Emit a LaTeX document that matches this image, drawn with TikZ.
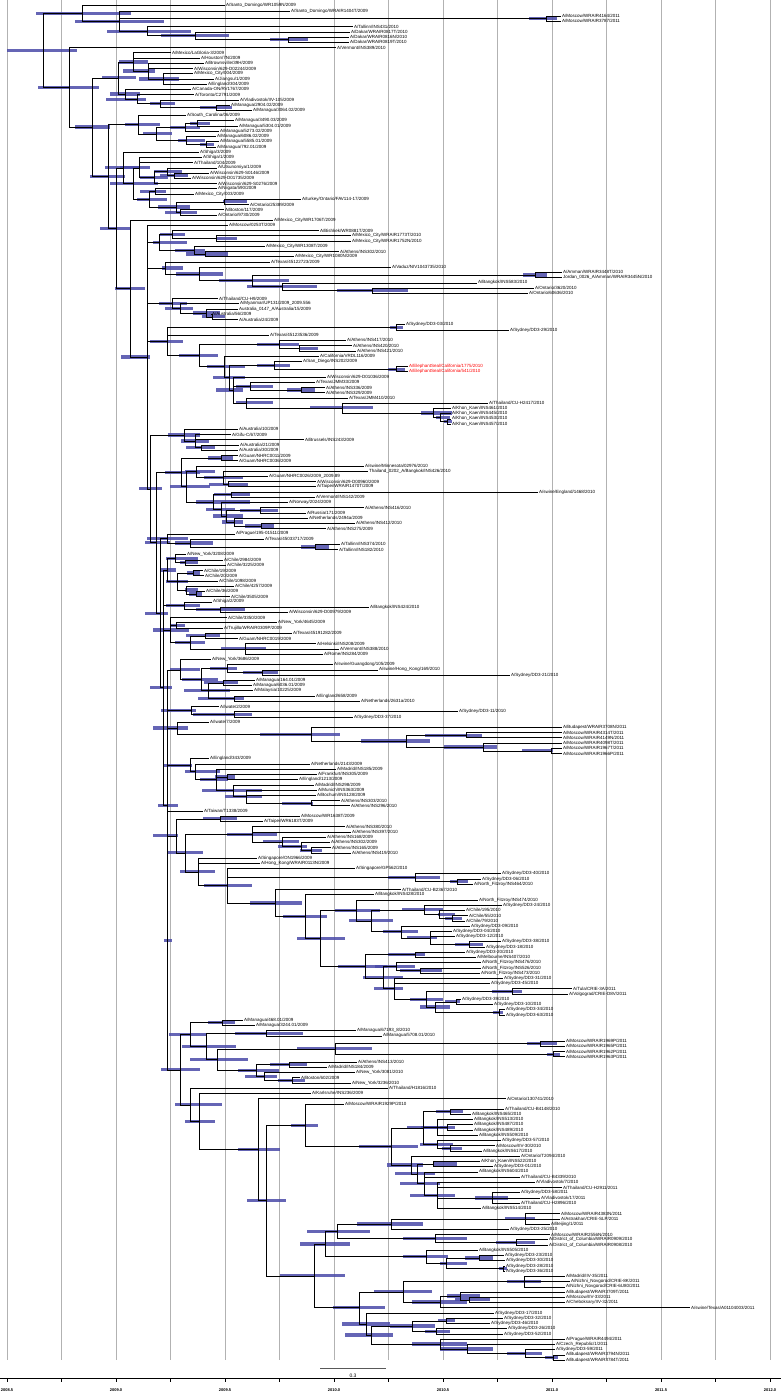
\documentclass[tikz,border=0pt]{standalone}
\usepackage{fontspec}
\setmainfont{Liberation Sans}
\definecolor{hpdblue}{RGB}{74,74,168}
\pgfdeclarelayer{back}
\pgfdeclarelayer{bars}
\pgfsetlayers{back,bars,main}

% y of tip row #1
\newcommand\rowy[1]{5.7+5.229*(#1-1)}
% \leaf[colour]{row}{tip x}{label}
\newcommand\leaf[4][black]{\node[taxon,text=#1] (l#2) at (#3,{\rowy{#2}}) {#4};}
% \clade{name}{x}{row}{bar from}{bar to}{children}
\newcommand\clade[6]{%
  \begin{pgfonlayer}{bars}\fill[hpd] (#4,{\rowy{#3}-1.6}) rectangle (#5,{\rowy{#3}+1.6});\end{pgfonlayer}%
  \coordinate (#1) at (#2,{\rowy{#3}});%
  \foreach \kid in {#6} \draw[branch] (#1) |- (\kid);}

\begin{document}
\begin{tikzpicture}[
  x=1pt, y=-1pt,
  taxon/.style={anchor=west, inner sep=0.8pt, font=\fontsize{4.5}{5}\selectfont},
  branch/.style={line width=0.55pt, black},
  hpd/.style={fill=hpdblue, fill opacity=0.85},
  gridline/.style={gray!60, line width=0.5pt},
  timeaxis/.style={line width=0.5pt},
  yearlab/.style={font=\fontsize{4}{4}\selectfont\bfseries, inner sep=0pt},
  scalebar/.style={gray!70!black, line width=1pt}
]
\useasboundingbox (0,0) rectangle (781,1396);

% time grid
\begin{pgfonlayer}{back}
\foreach \i in {0,...,14} \draw[gridline] ({7+54.5*\i},0) -- ({7+54.5*\i},1360);
\end{pgfonlayer}

% tips
\leaf{1}{225}{A/Santo\_Domingo/WR1059N/2009}
\leaf{2}{290}{A/Santo\_Domingo/WRAIR1404T/2009}
\leaf{3}{561}{A/Moscow/WRAIR4164/2011}
\leaf{4}{561}{A/Moscow/WRAIR3787/2011}
\leaf{5}{353}{A/Tallinn/INS431/2010}
\leaf{6}{350}{A/Dakar/WRAIR0817T/2010}
\leaf{7}{349}{A/Dakar/WRAIR0816N/2010}
\leaf{8}{349}{A/Dakar/WRAIR0819T/2010}
\leaf{9}{336}{A/Vermont/INS389/2010}
\leaf{10}{171}{A/Mexico/LaGloria-3/2009}
\leaf{11}{200}{A/Houston/7N/2009}
\leaf{12}{204}{A/Brownsville/39H/2009}
\leaf{13}{193}{A/Wisconsin/629-D02244/2009}
\leaf{14}{193}{A/Mexico\_City/004/2009}
\leaf{15}{214}{A/Jiangsu/1/2009}
\leaf{16}{207}{A/England/304/2009}
\leaf{17}{191}{A/Canada-ON/RV1767/2009}
\leaf{18}{194}{A/Toronto/C2791/2009}
\leaf{19}{239}{A/Vladivostok/IIV-105/2009}
\leaf{20}{230}{A/Managua/2904.02/2009}
\leaf{21}{252}{A/Managua/3064.02/2009}
\leaf{22}{186}{A/South\_Carolina/06/2009}
\leaf{23}{234}{A/Managua/3490.03/2009}
\leaf{24}{238}{A/Managua/5304.01/2009}
\leaf{25}{219}{A/Managua/5273.02/2009}
\leaf{26}{216}{A/Managua/6086.02/2009}
\leaf{27}{219}{A/Managua/5585.01/2009}
\leaf{28}{216}{A/Managua/792.01/2009}
\leaf{29}{199}{A/Shiga/3/2009}
\leaf{30}{202}{A/Shiga/1/2009}
\leaf{31}{193}{A/Thailand/104/2009}
\leaf{32}{217}{A/Utsunomiya/1/2009}
\leaf{33}{209}{A/Wisconsin/629-S0146/2009}
\leaf{34}{191}{A/Wisconsin/629-D01735/2009}
\leaf{35}{217}{A/Wisconsin/629-S0276/2009}
\leaf{36}{217}{A/Niigata/590/2009}
\leaf{37}{194}{A/Mexico\_City/003/2009}
\leaf{38}{301}{A/turkey/Ontario/FAV114-17/2009}
\leaf{39}{249}{A/Ontario/25389/2009}
\leaf{40}{224}{A/Boston/117/2009}
\leaf{41}{217}{A/Ontario/9730/2009}
\leaf{42}{273}{A/Mexico\_City/WR1706T/2009}
\leaf{43}{228}{A/Moscow/0253T/2009}
\leaf{44}{319}{A/Bishkek/WR0881T/2009}
\leaf{45}{351}{A/Mexico\_City/WRAIR1773T/2010}
\leaf{46}{351}{A/Mexico\_City/WRAIR1752N/2010}
\leaf{47}{265}{A/Mexico\_City/WR1308T/2009}
\leaf{48}{339}{A/Athens/INS302/2010}
\leaf{49}{294}{A/Mexico\_City/WR1080N/2009}
\leaf{50}{270}{A/Texas/45122723/2009}
\leaf{51}{391}{A/Vaduz/NIV1043735/2010}
\leaf{52}{562}{A/Amman/WRAIR3448T/2010}
\leaf{53}{562}{Jordan\_0026\_A/Amman/WRAIR3445N/2010}
\leaf{54}{477}{A/Bangkok/INS583/2010}
\leaf{55}{534}{A/Ontario/3620/2010}
\leaf{56}{528}{A/Ontario/60636/2010}
\leaf{57}{218}{A/Thailand/CU-H9/2009}
\leaf{58}{239}{A/Myanmar/UP131/2009\_2009.556}
\leaf{59}{238}{Australia\_0147\_A/Australia/15/2009}
\leaf{60}{211}{A/Australia/56/2009}
\leaf{61}{238}{A/Australia/24/2009}
\leaf{62}{405}{A/Sydney/DD3-03/2010}
\leaf{63}{509}{A/Sydney/DD3-29/2010}
\leaf{64}{269}{A/Texas/45123536/2009}
\leaf{65}{346}{A/Athens/INS417/2010}
\leaf{66}{352}{A/Athens/INS420/2010}
\leaf{67}{356}{A/Athens/INS421/2010}
\leaf{68}{319}{A/California/VRDL116/2009}
\leaf{69}{302}{A/San\_Diego/INS202/2009}
\leaf[red]{70}{408}{A/ElephantSeal/California/1775/2010}
\leaf[red]{71}{408}{A/ElephantSeal/California/541/2010}
\leaf{72}{326}{A/Wisconsin/629-D01036/2009}
\leaf{73}{315}{A/Texas/JMM33/2009}
\leaf{74}{325}{A/Athens/INS336/2009}
\leaf{75}{325}{A/Athens/INS329/2009}
\leaf{76}{348}{A/Texas/JMM410/2010}
\leaf{77}{488}{A/Thailand/CU-H2417/2010}
\leaf{78}{451}{A/Khon\_Kaen/INS461/2010}
\leaf{79}{451}{A/Khon\_Kaen/INS445/2010}
\leaf{80}{451}{A/Khon\_Kaen/INS453/2010}
\leaf{81}{451}{A/Khon\_Kaen/INS457/2010}
\leaf{82}{238}{A/Australia/10/2009}
\leaf{83}{231}{A/Gifu-C/67/2009}
\leaf{84}{304}{A/Brussels/INS243/2009}
\leaf{85}{239}{A/Australia/21/2009}
\leaf{86}{238}{A/Australia/30/2009}
\leaf{87}{238}{A/Guam/NHRC0011/2009}
\leaf{88}{238}{A/Guam/NHRC0036/2009}
\leaf{89}{364}{A/swine/Minnesota/02976/2010}
\leaf{90}{368}{Thailand\_0202\_A/Bangkok/INS426/2010}
\leaf{91}{268}{A/Guam/NHRC0026/2009\_2009.89}
\leaf{92}{316}{A/Wisconsin/629-D00960/2009}
\leaf{93}{316}{A/Taipei/WRAIR1470T/2009}
\leaf{94}{538}{A/swine/England/1468/2010}
\leaf{95}{315}{A/Vermont/INS142/2009}
\leaf{96}{288}{A/Norway/2024/2009}
\leaf{97}{364}{A/Athens/INS416/2010}
\leaf{98}{306}{A/Russia/171/2009}
\leaf{99}{308}{A/Netherlands/2494a/2009}
\leaf{100}{355}{A/Athens/INS412/2010}
\leaf{101}{326}{A/Athens/INS275/2009}
\leaf{102}{235}{A/Prague/195-01511/2009}
\leaf{103}{264}{A/Texas/45033717/2009}
\leaf{104}{340}{A/Tallinn/INS374/2010}
\leaf{105}{338}{A/Tallinn/INS182/2010}
\leaf{106}{186}{A/New\_York/3208/2009}
\leaf{107}{223}{A/Chile/2984/2009}
\leaf{108}{226}{A/Chile/3225/2009}
\leaf{109}{203}{A/Chile/19/2009}
\leaf{110}{204}{A/Chile/20/2009}
\leaf{111}{218}{A/Chile/1098/2009}
\leaf{112}{234}{A/Chile/4257/2009}
\leaf{113}{205}{A/Chile/36/2009}
\leaf{114}{230}{A/Chile/3505/2009}
\leaf{115}{212}{A/Shiga/2/2009}
\leaf{116}{369}{A/Bangkok/INS424/2010}
\leaf{117}{288}{A/Wisconsin/629-D00979/2009}
\leaf{118}{227}{A/Chile/3350/2009}
\leaf{119}{277}{A/New\_York/4645/2009}
\leaf{120}{223}{A/Trujillo/WRAIR0309P/2009}
\leaf{121}{292}{A/Texas/45191282/2009}
\leaf{122}{238}{A/Guam/NHRC0019/2009}
\leaf{123}{316}{A/Helsinki/INS208/2009}
\leaf{124}{339}{A/Vermont/INS388/2010}
\leaf{125}{323}{A/Rome/INS284/2009}
\leaf{126}{211}{A/New\_York/3686/2009}
\leaf{127}{333}{A/swine/Guangdong/105/2009}
\leaf{128}{378}{A/swine/Hong\_Kong/169/2010}
\leaf{129}{510}{A/Sydney/DD3-21/2010}
\leaf{130}{255}{A/Managua/164.01/2009}
\leaf{131}{252}{A/Managua/6036.01/2009}
\leaf{132}{253}{A/Malaysia/10225/2009}
\leaf{133}{315}{A/England/658/2009}
\leaf{134}{360}{A/Netherlands/2631a/2010}
\leaf{135}{219}{A/Iwate/2/2009}
\leaf{136}{458}{A/Sydney/DD3-11/2010}
\leaf{137}{353}{A/Sydney/DD3-37/2010}
\leaf{138}{209}{A/Iwate/7/2009}
\leaf{139}{562}{A/Budapest/WRAIR3708N/2011}
\leaf{140}{562}{A/Moscow/WRAIR4314T/2011}
\leaf{141}{562}{A/Moscow/WRAIR4149N/2011}
\leaf{142}{562}{A/Moscow/WRAIR4098T/2011}
\leaf{143}{562}{A/Moscow/WRAIR1967T/2011}
\leaf{144}{562}{A/Moscow/WRAIR1966P/2011}
\leaf{145}{209}{A/England/343/2009}
\leaf{146}{310}{A/Netherlands/2143/2009}
\leaf{147}{336}{A/Madrid/INS185/2009}
\leaf{148}{317}{A/Frankfurt/INS305/2009}
\leaf{149}{298}{A/England/1213/2009}
\leaf{150}{314}{A/Madrid/INS298/2009}
\leaf{151}{317}{A/Munich/INS363/2009}
\leaf{152}{316}{A/Bochum/INS128/2009}
\leaf{153}{340}{A/Athens/INS303/2010}
\leaf{154}{350}{A/Athens/INS296/2010}
\leaf{155}{203}{A/Taiwan/T1338/2009}
\leaf{156}{300}{A/Moscow/WR1638T/2009}
\leaf{157}{263}{A/Taipei/WR6183T/2009}
\leaf{158}{345}{A/Athens/INS380/2010}
\leaf{159}{351}{A/Athens/INS397/2010}
\leaf{160}{326}{A/Athens/INS168/2009}
\leaf{161}{330}{A/Athens/INS302/2009}
\leaf{162}{331}{A/Athens/INS165/2009}
\leaf{163}{351}{A/Athens/INS419/2010}
\leaf{164}{257}{A/Singapore/ON1966/2009}
\leaf{165}{260}{A/Hong\_Kong/WRAIR0113N/2009}
\leaf{166}{355}{A/Singapore/GP562/2010}
\leaf{167}{501}{A/Sydney/DD3-40/2010}
\leaf{168}{481}{A/Sydney/DD3-06/2010}
\leaf{169}{473}{A/North\_Fitzroy/INS464/2010}
\leaf{170}{401}{A/Thailand/CU-B2367/2010}
\leaf{171}{374}{A/Bangkok/INS428/2010}
\leaf{172}{478}{A/North\_Fitzroy/INS474/2010}
\leaf{173}{502}{A/Sydney/DD3-24/2010}
\leaf{174}{465}{A/Chile/195/2010}
\leaf{175}{468}{A/Chile/55/2010}
\leaf{176}{465}{A/Chile/79/2010}
\leaf{177}{470}{A/Sydney/DD3-09/2010}
\leaf{178}{452}{A/Sydney/DD3-04/2010}
\leaf{179}{455}{A/Sydney/DD3-12/2010}
\leaf{180}{501}{A/Sydney/DD3-38/2010}
\leaf{181}{485}{A/Sydney/DD3-18/2010}
\leaf{182}{465}{A/Sydney/DD3-20/2010}
\leaf{183}{476}{A/Melbourne/INS407/2010}
\leaf{184}{481}{A/North\_Fitzroy/INS476/2010}
\leaf{185}{481}{A/North\_Fitzroy/INS526/2010}
\leaf{186}{480}{A/North\_Fitzroy/INS473/2010}
\leaf{187}{503}{A/Sydney/DD3-31/2010}
\leaf{188}{490}{A/Sydney/DD3-45/2010}
\leaf{189}{572}{A/Tula/CRIE-3A/2011}
\leaf{190}{568}{A/Volgograd/CRIE-D8V/2011}
\leaf{191}{461}{A/Sydney/DD3-39/2010}
\leaf{192}{493}{A/Sydney/DD3-10/2010}
\leaf{193}{505}{A/Sydney/DD3-34/2010}
\leaf{194}{505}{A/Sydney/DD3-63/2010}
\leaf{195}{243}{A/Managua/468.01/2009}
\leaf{196}{255}{A/Managua/3244.01/2009}
\leaf{197}{356}{A/Managua/67193\_8/2010}
\leaf{198}{382}{A/Managua/5708.01/2010}
\leaf{199}{565}{A/Moscow/WRAIR1969P/2011}
\leaf{200}{565}{A/Moscow/WRAIR1965P/2011}
\leaf{201}{565}{A/Moscow/WRAIR1962P/2011}
\leaf{202}{565}{A/Moscow/WRAIR1963P/2011}
\leaf{203}{357}{A/Athens/INS413/2010}
\leaf{204}{327}{A/Madrid/INS184/2009}
\leaf{205}{355}{A/New\_York/3081/2010}
\leaf{206}{300}{A/Boston/602/2009}
\leaf{207}{351}{A/New\_York/3236/2010}
\leaf{208}{388}{A/Thailand/H1816/2010}
\leaf{209}{311}{A/Karlsruhe/INS236/2009}
\leaf{210}{506}{A/Ontario/130741/2010}
\leaf{211}{344}{A/Moscow/WRAIR1929P/2010}
\leaf{212}{504}{A/Thailand/CU-B4148/2010}
\leaf{213}{471}{A/Bangkok/INS465/2010}
\leaf{214}{473}{A/Bangkok/INS513/2010}
\leaf{215}{473}{A/Bangkok/INS487/2010}
\leaf{216}{473}{A/Bangkok/INS489/2010}
\leaf{217}{478}{A/Bangkok/INS509/2010}
\leaf{218}{501}{A/Sydney/DD3-57/2010}
\leaf{219}{495}{A/Moscow/IIV-30/2010}
\leaf{220}{482}{A/Bangkok/INS617/2010}
\leaf{221}{520}{A/Ontario/T2094/2010}
\leaf{222}{480}{A/Khon\_Kaen/INS522/2010}
\leaf{223}{493}{A/Sydney/DD3-01/2010}
\leaf{224}{478}{A/Bangkok/INS604/2010}
\leaf{225}{520}{A/Thailand/CU-B4339/2010}
\leaf{226}{535}{A/Vladivostok/7/2010}
\leaf{227}{562}{A/Thailand/CU-H2911/2011}
\leaf{228}{520}{A/Sydney/DD3-58/2011}
\leaf{229}{540}{A/Vladivostok/17/2011}
\leaf{230}{520}{A/Thailand/CU-H2896/2010}
\leaf{231}{481}{A/Bangkok/INS514/2010}
\leaf{232}{560}{A/Moscow/WRAIR4383N/2011}
\leaf{233}{560}{A/Astrakhan/CRIE-SLP/2011}
\leaf{234}{550}{A/Beijing/1/2011}
\leaf{235}{509}{A/Sydney/DD3-25/2010}
\leaf{236}{550}{A/Moscow/WRAIR2556N/2010}
\leaf{237}{548}{A/District\_of\_Columbia/WRAIR0909/2010}
\leaf{238}{548}{A/District\_of\_Columbia/WRAIR0908/2010}
\leaf{239}{478}{A/Bangkok/INS505/2010}
\leaf{240}{504}{A/Sydney/DD3-23/2010}
\leaf{241}{505}{A/Sydney/DD3-30/2010}
\leaf{242}{505}{A/Sydney/DD3-28/2010}
\leaf{243}{505}{A/Sydney/DD3-36/2010}
\leaf{244}{565}{A/Madrid/IIV-35/2011}
\leaf{245}{570}{A/Nizhni\_Novgorod/CRIE-8K/2011}
\leaf{246}{565}{A/Nizhni\_Novgorod/CRIE-6U80/2011}
\leaf{247}{565}{A/Budapest/WRAIR3709T/2011}
\leaf{248}{565}{A/Moscow/IIV-33/2011}
\leaf{249}{565}{A/Cheboksary/IIV-32/2011}
\leaf{250}{690}{A/swine/Texas/A01104003/2011}
\leaf{251}{494}{A/Sydney/DD3-17/2010}
\leaf{252}{503}{A/Sydney/DD3-32/2010}
\leaf{253}{490}{A/Sydney/DD3-46/2010}
\leaf{254}{507}{A/Sydney/DD3-26/2010}
\leaf{255}{503}{A/Sydney/DD3-52/2010}
\leaf{256}{565}{A/Prague/WRAIR4494/2011}
\leaf{257}{555}{A/Czech\_Republic/1/2011}
\leaf{258}{555}{A/Sydney/DD3-59/2011}
\leaf{259}{565}{A/Budapest/WRAIR3794N/2011}
\leaf{260}{565}{A/Budapest/WRAIR3784T/2011}

% top clade
\clade{n5}{288.6}{7.5}{270}{308}{l7,l8}
\clade{n4}{195.7}{6.75}{161}{229}{l6,n5}
\clade{n3}{147.5}{5.9}{107}{191}{l5,n4}
\clade{mo1}{546}{3.5}{529}{557}{l3,l4}
\clade{n2}{119.6}{4}{75}{164}{l2,mo1,n3}
\clade{n1}{82}{2.5}{36}{131}{l1,n2}

% Mexico
\clade{mx3}{163.6}{15}{139}{179}{l14,l15,l16}
\clade{mx2}{148}{13.5}{123}{155}{l12,l13,mx3}
\clade{mx1}{133}{11.75}{119}{148}{l10,l11,mx2}
\clade{mx7}{216}{20.5}{200}{232}{l20,l21}
\clade{mx6}{160.7}{19.75}{150}{175}{l19,mx7}
\clade{mx5}{137.5}{18.9}{106}{146}{l18,mx6}
\clade{mx4}{125.7}{17.9}{110}{140}{l17,mx5}
\clade{mx0}{117.9}{14.8}{102}{136}{mx1,mx4}

% Managua
\clade{sc2a}{197}{23.5}{190}{210}{l23,l24}
\clade{sc2}{185}{24.25}{170}{200}{sc2a,l25}
\clade{sc3a}{206.7}{27.5}{200}{214}{l27,l28}
\clade{sc3}{186.7}{26.75}{178}{205}{l26,sc3a}
\clade{sc1}{156.7}{25.5}{143}{172}{sc2,sc3}
\clade{sc0}{138}{23.75}{125}{160}{l22,sc1}

% Shiga / Wisconsin
\clade{sh4a}{174}{33.5}{160}{188}{l33,l34}
\clade{sh4}{167}{32.75}{154}{182}{l32,sh4a}
\clade{sh3}{154}{33.9}{140}{168}{sh4,l35}
\clade{sh2}{139.3}{32}{120}{150}{l30,l31,sh3}
\clade{sh6}{155.7}{36.5}{140}{166}{l36,l37}
\clade{sh8}{224.3}{38.5}{223}{247}{l38,l39}
\clade{sh9}{180.7}{40.5}{165}{197}{l40,l41}
\clade{sh7}{176}{39.5}{158}{190}{sh8,sh9}
\clade{sh5}{149.3}{38}{137}{167}{sh6,sh7}
\clade{sh1}{133.3}{35}{110}{158}{sh2,sh5}
\clade{sh0}{123.3}{32}{105}{140}{l29,sh1}

% Mexico City / Amman
\clade{mc3a}{216.7}{45.5}{216}{237}{l45,l46}
\clade{mc3}{172.7}{44.75}{160}{185}{l44,mc3a}
\clade{mc5}{205}{48.5}{186}{228}{l48,l49}
\clade{mc4}{194}{47.75}{175}{205}{l47,mc5}
\clade{mc1}{159.3}{46.25}{153}{187}{mc3,mc4}
\clade{am0}{535}{52.5}{523}{547}{l52,l53}
\clade{on1}{372.3}{55.5}{337}{408}{l55,l56}
\clade{mc8}{282.3}{54.75}{247}{317}{l54,on1}
\clade{mc7}{252.3}{53.6}{219}{289}{am0,mc8}
\clade{mc6}{199.3}{52.3}{176}{223}{l51,mc7}
\clade{mc2}{165}{51.15}{162}{183}{l50,mc6}

% Australia
\clade{au1b}{212.7}{60.5}{202}{225}{l60,l61}
\clade{au1a}{206.7}{59.75}{193}{220}{l59,au1b}
\clade{au1}{180.7}{58.9}{165}{193}{l58,au1a}
\clade{au0}{172.7}{57.9}{159}{187}{l57,au1}

% Texas / Athens / Khon Kaen
\clade{sy0}{396.7}{62.5}{390}{403}{l62,l63}
\clade{ath2}{299}{66.5}{299}{318}{l66,l67}
\clade{ath}{279}{65.75}{257}{299}{l65,ath2}
\clade{es0}{396.7}{70.5}{388}{405}{l70,l71}
\clade{tx4}{274.3}{69.75}{257}{290}{l69,es0}
\clade{tx6a}{301}{74.5}{287}{315}{l74,l75}
\clade{tx6}{250}{73.75}{236}{273}{l73,tx6a}
\clade{kn3}{447}{80.5}{444}{452}{l80,l81}
\clade{kn2}{440}{79.75}{436}{450}{l79,kn3}
\clade{kn1}{433.3}{78.9}{421}{452}{l78,kn2}
\clade{kn0}{342.3}{77.9}{310}{373}{l77,kn1}
\clade{tx7}{246}{76.95}{236}{273}{l76,kn0}
\clade{tx5}{233.3}{74.5}{216}{243}{l72,tx6,tx7}
\clade{tx3}{229.3}{72.1}{213}{245}{tx4,tx5}
\clade{tx2}{224.3}{70}{207}{245}{l68,tx3}
\clade{tx1}{199.3}{67.9}{179}{218}{ath,tx2}
\clade{tx0}{167.3}{65.2}{150}{183}{sy0,l64,tx1}

% Australia / Guam / swine
\clade{au5}{201}{85.5}{186}{215}{l85,l86}
\clade{au4}{195}{84.25}{181}{209}{l83,l84,au5}
\clade{au3}{184.3}{83.1}{168}{200}{l82,au4}
\clade{au6}{221}{87.5}{208}{233}{l87,l88}
\clade{gm6}{228.3}{92.5}{209}{248}{l92,l93}
\clade{gm5}{223.3}{91.25}{204}{243}{l90,l91,gm6}
\clade{gm3}{196.7}{90.1}{185}{215}{l89,gm5}
\clade{gm7}{231.7}{94.5}{214}{250}{l94,l95}
\clade{gm10}{260}{97.5}{240}{278}{l97,l98}
\clade{gm12}{261.7}{100.5}{245}{274}{l100,l101}
\clade{gm11}{234.3}{99.75}{222}{243}{l99,gm12}
\clade{gm9}{226.7}{98.6}{213}{243}{gm10,gm11}
\clade{gm8}{221.7}{97.3}{206}{235}{l96,gm9}
\clade{gm4}{213.3}{95.9}{196}{250}{gm7,gm8}
\clade{gm2}{186.7}{93}{170}{210}{gm3,gm4}
\clade{gm1}{181.7}{90.25}{165}{200}{au6,gm2}

% Prague / Tallinn
\clade{pr2}{315.7}{104.5}{301}{329}{l104,l105}
\clade{pr1}{190}{103.75}{175}{213}{l103,pr2}
\clade{pr0}{167.3}{102.9}{147}{188}{l102,pr1}

% Chile
\clade{ch2}{185.7}{107.5}{180}{198}{l107,l108}
\clade{ch1}{175}{106.75}{166}{198}{l106,ch2}
\clade{ch4}{193.3}{109.5}{187}{200}{l109,l110}
\clade{ch6}{196}{113.5}{189}{202}{l113,l114}
\clade{ch5}{186.7}{112.75}{185}{198}{l112,ch6}
\clade{ch3}{177.3}{111.1}{166}{188}{ch4,l111,ch5}
\clade{ch0}{167.3}{108.9}{160}{176}{ch1,ch3}
\clade{ch8}{220}{116.5}{196}{245}{l116,l117}
\clade{ch7}{184}{115.75}{166}{200}{l115,ch8}
\clade{ch10}{176}{119.5}{170}{185}{l119,l120}
\clade{ch12}{205.7}{121.5}{186}{220}{l121,l122}
\clade{ch13}{245}{124}{221}{266}{l123,l124,l125}
\clade{ch11}{190}{122.75}{175}{205}{ch12,ch13}
\clade{ch9}{170.7}{120.4}{153}{189}{l118,ch10,ch11}

% Guangdong / Managua / Iwate
\clade{gd5}{262.7}{128.5}{243}{278}{l128,l129}
\clade{gd2}{227.7}{127.75}{210}{237}{l127,gd5}
\clade{gd4}{223}{130.5}{204}{238}{l130,l131}
\clade{gd6}{234.3}{133.5}{198}{244}{l133,l134}
\clade{gd3}{208.3}{132}{184}{230}{gd4,l132,gd6}
\clade{gd1}{201.7}{129.9}{182}{218}{gd2,gd3}
\clade{gd0}{180}{128}{170}{200}{l126,gd1}
\clade{gd8}{234.3}{136.5}{193}{252}{l136,l137}
\clade{gd7}{191}{135.75}{161}{196}{l135,gd8}

% Budapest / Moscow 2011
\clade{bu4}{551.7}{143.5}{522}{553}{l143,l144}
\clade{bu3}{483.3}{142.75}{444}{497}{l142,bu4}
\clade{bu2}{466.7}{140.5}{425}{482}{l140,l141}
\clade{bu1}{406.7}{141.6}{361}{430}{bu2,bu3}
\clade{bu0}{311}{140.3}{260}{340}{l139,bu1}
\clade{ba}{177.7}{139.15}{153}{188}{l138,bu0}

% Europe
\clade{en6}{311.7}{153.5}{282}{313}{l153,l154}
\clade{en5}{246}{152.25}{225}{262}{l151,l152,en6}
\clade{en4}{233}{151.1}{202}{262}{l150,en5}
\clade{en3}{227.3}{148.5}{215}{235}{l148,l149}
\clade{en2}{216}{149}{200}{228}{l147,en3,en4}
\clade{en1}{195.7}{147.5}{185}{220}{l146,en2}
\clade{en0}{190}{146.25}{163}{192}{l145,en1}

% Athens / Singapore / Sydney
\clade{tw1}{220}{156.5}{203}{237}{l156,l157}
\clade{tw6}{311.7}{162.5}{300}{322}{l162,l163}
\clade{tw5}{301}{161.75}{278}{307}{l161,tw6}
\clade{tw4}{282.3}{160.9}{263}{299}{l160,tw5}
\clade{tw3}{252.3}{159.45}{227}{277}{l158,l159,tw4}
\clade{sy2}{457}{168.5}{450}{468}{l168,l169}
\clade{sy1}{415}{167.75}{388}{440}{l167,sy2}
\clade{sg13}{452.3}{175.5}{445}{462}{l175,l176}
\clade{sg12}{439.3}{174.75}{438}{455}{l174,sg13}
\clade{sg10}{424.3}{173.9}{402}{443}{l173,sg12}
\clade{sg15}{469}{180.5}{455}{483}{l180,l181}
\clade{sg14}{430.7}{179.25}{407}{437}{l178,l179,sg15}
\clade{sg11}{401.7}{178.1}{383}{418}{l177,sg14}
\clade{sg9}{371.7}{176}{349}{393}{sg10,sg11}
\clade{sg7}{356.7}{174}{335}{380}{l172,sg9}
\clade{sg16}{415}{182.5}{388}{425}{l182,l183}
\clade{sg20}{420.7}{185.5}{400}{442}{l185,l186}
\clade{sg18}{396.7}{184.75}{375}{415}{l184,sg20}
\clade{sg22}{512}{189.5}{492}{522}{l189,l190}
\clade{sg24}{456.7}{191.5}{445}{460}{l191,l192}
\clade{sg25}{499}{193.5}{493}{503}{l193,l194}
\clade{sg23}{435}{192.5}{420}{450}{sg24,sg25}
\clade{sg21}{426.7}{191}{410}{443}{sg22,sg23}
\clade{sg19}{394.3}{189}{374}{403}{l187,l188,sg21}
\clade{sg17}{383.3}{186.9}{363}{403}{sg18,sg19}
\clade{sg8}{365}{184.7}{338}{387}{sg16,sg17}
\clade{sg6}{320}{179.35}{297}{345}{sg7,sg8}
\clade{sg5}{305}{175.2}{283}{327}{l171,sg6}
\clade{sg4}{275.7}{172.6}{250}{302}{l170,sg5}
\clade{sg3}{227.3}{169.3}{204}{252}{l166,sy1,sg4}
\clade{sg1}{198.3}{166.65}{180}{215}{l164,l165,sg3}
\clade{tw2}{185}{163}{167}{203}{tw3,sg1}
\clade{tw0}{176}{159.75}{153}{178}{tw1,tw2}

% Managua / Moscow 2011 / New York
\clade{mg1}{222.7}{195.5}{208}{235}{l195,l196}
\clade{mg2}{266.7}{197.5}{235}{303}{l197,l198}
\clade{mo3}{540}{199.5}{527}{557}{l199,l200}
\clade{mo4}{553}{201.5}{547}{560}{l201,l202}
\clade{mo2}{335}{200.5}{297}{372}{mo3,mo4}
\clade{mg7}{289.3}{203.5}{270}{307}{l203,l204}
\clade{mg9}{292.7}{206.5}{278}{305}{l206,l207}
\clade{mg8}{264}{205.75}{245}{277}{l205,mg9}
\clade{mg6}{256.7}{204.6}{238}{279}{mg7,mg8}
\clade{mg5}{217.7}{202.55}{190}{248}{mo2,mg6}
\clade{mg10}{206.7}{200}{182}{236}{mg2,mg5}
\clade{mg3}{190}{197.75}{169}{207}{mg1,mg10}

% Bangkok / Khon Kaen
\clade{bk1}{450}{212.5}{436}{463}{l212,l213}
\clade{bk2a}{447}{215.5}{440}{455}{l215,l216}
\clade{bk2}{437}{215.5}{421}{447}{l214,bk2a,l217}
\clade{bk3a}{450}{219.5}{442}{462}{l219,l220}
\clade{bk3}{437}{218.75}{420}{453}{l218,bk3a}
\clade{bk0}{423}{215.6}{407}{438}{bk1,bk2,bk3}
\clade{kk2}{433}{222.5}{433}{457}{l222,l223}
\clade{kk6}{492}{229}{475}{508}{l228,l229,l230}
\clade{kk4}{437}{228.5}{410}{455}{l226,l227,kk6,l231}
\clade{kk3}{424}{226.25}{400}{440}{l224,l225,kk4}
\clade{kk1}{417}{224.4}{395}{435}{kk2,kk3}
\clade{kk0}{411.7}{222.7}{387}{423}{l221,kk1}
\clade{p7}{391}{219.15}{359}{418}{bk0,kk0}
\clade{p4}{305}{215.1}{291}{318}{l211,p7}

% Sydney / District of Columbia / Europe 2011
\clade{q7}{525}{233}{505}{535}{l232,l233,l234}
\clade{q5}{391.7}{234}{357}{423}{q7,l235}
\clade{q8}{516}{237.5}{496}{535}{l237,l238}
\clade{q6}{435}{236.75}{403}{467}{l236,q8}
\clade{q3}{337.7}{235.4}{307}{370}{q5,q6}
\clade{q10}{479}{240.5}{465}{493}{l240,l241}
\clade{q11}{503}{242.5}{499}{507}{l242,l243}
\clade{q9}{446}{241.5}{440}{467}{q10,q11}
\clade{q4}{426.7}{240.25}{403}{448}{l239,q9}
\clade{q1}{325.7}{237.8}{300}{350}{q3,q4}
\clade{q14}{524}{245}{507}{541}{l244,l245,l246}
\clade{q17}{469}{248.5}{455}{490}{l248,l249}
\clade{q16}{460}{247.75}{447}{480}{l247,q17}
\clade{q15}{440}{248.9}{412}{467}{q16,l250}
\clade{q12}{403.3}{246.95}{374}{432}{q14,q15}
\clade{q21}{446}{252.5}{438}{455}{l252,l253}
\clade{q22}{436.7}{254.5}{425}{450}{l254,l255}
\clade{q19}{412.7}{253.5}{390}{435}{q21,q22}
\clade{q25}{553}{259.5}{545}{558}{l259,l260}
\clade{q24}{525}{258.75}{507}{542}{l258,q25}
\clade{q23}{467.7}{257.9}{440}{493}{l257,q24}
\clade{q20}{440}{256.95}{412}{467}{l256,q23}
\clade{q18}{371.7}{255.2}{345}{393}{q19,q20}
\clade{q13}{366}{253.1}{342}{390}{l251,q18}
\clade{q2}{359.3}{250}{333}{385}{q12,q13}
\clade{p6}{314.3}{243.9}{280}{345}{q1,q2}
\clade{p5}{266.7}{229.5}{247}{286}{p4,p6}
\clade{p3}{258.3}{219.75}{238}{280}{l210,p5}
\clade{p2}{199.3}{214.4}{185}{215}{l209,p3}
\clade{p1}{190}{211.2}{175}{222}{l208,p2}

% backbone
\clade{b13}{180}{204.5}{161}{200}{mg3,p1}
\clade{b12}{167.3}{179.75}{164}{172}{l155,tw0,b13}
\clade{b10}{167.3}{153.9}{158}{178}{gd0,gd7,ba,en0,b12}
\clade{b9}{163}{131.4}{150}{172}{ch0,ch7,ch9,b10}
\clade{b8}{160.7}{117.2}{145}{168}{pr0,b9}
\clade{b7}{156.7}{103.7}{145}{170}{gm1,b8}
\clade{b6}{150}{93.4}{139}{162}{au3,b7}
\clade{b4}{147.3}{68.2}{121}{150}{l43,mc1,mc2,au0,tx0,b6}
\clade{b3}{130.7}{55.1}{115}{145}{l42,b4}
\clade{b2}{116.7}{43.55}{100}{130}{sh0,b3}
\clade{b1}{108}{33.65}{90}{125}{sc0,b2}
\clade{b0}{92}{24.2}{75}{110}{mx0,b1}
\clade{m0}{69}{16.6}{38}{99}{l9,b0}
\clade{r0}{42.9}{9.55}{7}{77}{n1,m0}

% time axis and scale bar
\coordinate (ax0) at (0,1378.7);
\coordinate (ax1) at (781,1378.7);
\draw[timeaxis] (ax0) -- (ax1);
\foreach \i in {0,...,14} \draw[timeaxis] ({7+54.5*\i},1378.7) -- ++(0,3);
\foreach \yr [count=\i from 0] in {2008.5,2009.0,2009.5,2010.0,2010.5,2011.0,2011.5,2012.0}
  \node[yearlab] (yr\i) at ({7+109*\i},1390) {\yr};
\coordinate (sb0) at (320,1368.7);
\coordinate (sb1) at (385.7,1368.7);
\draw[scalebar] (sb0) -- (sb1);
\node[font=\fontsize{5}{5}\selectfont, inner sep=0pt] (sblab) at (353,1375.5) {0.3};

\end{tikzpicture}
\end{document}
